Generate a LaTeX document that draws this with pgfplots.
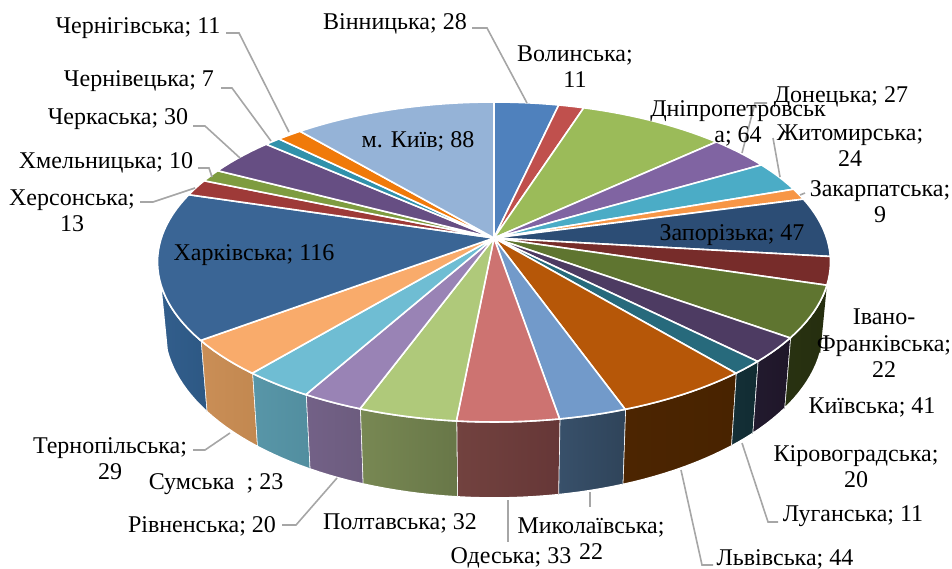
\documentclass[border=0pt]{standalone}
\usepackage{pgfplots}
\usepackage{pgfplotstable}
\pgfplotsset{compat=1.18}
\usepackage{fontspec}
\setmainfont{Liberation Serif}
\pgfplotstableread{
value
28
11
64
27
24
9
47
22
41
20
11
44
22
33
32
20
23
29
116
13
10
30
7
11
88
}\slices
\definecolor{t0}{HTML}{4F81BD}\definecolor{t1}{HTML}{C0504D}\definecolor{t2}{HTML}{9BBB59}
\definecolor{t3}{HTML}{8064A2}\definecolor{t4}{HTML}{4BACC6}\definecolor{t5}{HTML}{F79646}
\definecolor{t6}{HTML}{2C4D75}\definecolor{t7}{HTML}{772C2A}\definecolor{t8}{HTML}{5F7530}
\definecolor{t9}{HTML}{4D3B62}\definecolor{t10}{HTML}{276A7C}\definecolor{t11}{HTML}{B65708}
\definecolor{t12}{HTML}{729ACA}\definecolor{t13}{HTML}{CD7371}\definecolor{t14}{HTML}{AFC97A}
\definecolor{t15}{HTML}{9983B5}\definecolor{t16}{HTML}{6FBDD3}\definecolor{t17}{HTML}{F9AB6B}
\definecolor{t18}{HTML}{3A6595}\definecolor{t19}{HTML}{9E3A38}\definecolor{t20}{HTML}{7E9C40}
\definecolor{t21}{HTML}{664E83}\definecolor{t22}{HTML}{3091AB}\definecolor{t23}{HTML}{F07A0A}
\definecolor{t24}{HTML}{95B3D7}
\definecolor{l8}{HTML}{293211}\definecolor{r8}{HTML}{252E0F}
\definecolor{l9}{HTML}{221A2E}\definecolor{r9}{HTML}{1F1629}
\definecolor{l10}{HTML}{142F37}\definecolor{r10}{HTML}{112C32}
\definecolor{l11}{HTML}{4C2501}\definecolor{r11}{HTML}{482300}
\definecolor{l12}{HTML}{38506A}\definecolor{r12}{HTML}{2F445A}
\definecolor{l13}{HTML}{72423F}\definecolor{r13}{HTML}{663737}
\definecolor{l14}{HTML}{788853}\definecolor{r14}{HTML}{687748}
\definecolor{l15}{HTML}{736187}\definecolor{r15}{HTML}{6C5C7E}
\definecolor{l16}{HTML}{5896A8}\definecolor{r16}{HTML}{528E9F}
\definecolor{l17}{HTML}{CA8E56}\definecolor{r17}{HTML}{C28850}
\definecolor{l18}{HTML}{325E8C}\definecolor{r18}{HTML}{2D5884}
\definecolor{leader}{HTML}{A6A6A6}
% projection of the tilted disc
\newcommand\ptop[1]{%
  \pgfmathsetmacro\pu{sin(#1)}%
  \pgfmathsetmacro\pv{cos(#1)}%
  \pgfmathsetmacro\pw{1+0.15*\pv}%
  \pgfmathsetmacro\pX{494+332.7*\pu/\pw}%
  \pgfmathsetmacro\pY{238-156.4*\pv/\pw}%
  \pgfmathsetmacro\qX{494+(\pX-494)*0.98}%
  \pgfmathsetmacro\qY{\pY+76-0.061*(422-\pY)}%
}
\newcommand\lab[3]{\node[align=center,inner sep=0pt,yshift=-1.5pt,font=\fontsize{24}{26.4}\selectfont] at (axis cs:#1,#2) {#3};}
\newcommand\leader[1]{\addplot[leader,line width=1.6pt] coordinates {#1};}
\begin{document}
\begin{tikzpicture}
\begin{axis}[
  scale only axis, width=952pt, height=569pt,
  xmin=0, xmax=952, ymin=0, ymax=569, y dir=reverse,
  hide axis, clip=false, enlargelimits=false]
% side walls
\gdef\cum{0}
\foreach \i in {0,...,18}{%
  \pgfplotstablegetelem{\i}{value}\of\slices
  \pgfmathsetmacro\angA{\cum/782*360}%
  \pgfmathsetmacro\cumN{\cum+\pgfplotsretval}%
  \xdef\cum{\cumN}%
  \pgfmathsetmacro\angB{\cum/782*360}%
  \ifnum\i=18 \def\angB{254}\fi
  \ifnum\i>7
    \pgfmathtruncatemacro\nn{ceil((\angB-\angA)/2)}%
    \gdef\listT{}\gdef\listB{}%
    \foreach \j in {0,...,\nn}{%
      \pgfmathsetmacro\ang{\angA+(\angB-\angA)*\j/\nn}%
      \ptop{\ang}%
      \xdef\listT{\listT (\pX,\pY)}%
      \xdef\listB{(\qX,\qY) \listB}%
    }%
    \edef\temp{\noexpand\addplot[left color=l\i,right color=r\i,draw=white,line width=1.6pt] coordinates {\listT\space\listB};}%
    \temp
  \fi
}
% top faces
\gdef\cum{0}
\foreach \i in {0,...,24}{%
  \pgfplotstablegetelem{\i}{value}\of\slices
  \pgfmathsetmacro\angA{\cum/782*360}%
  \pgfmathsetmacro\cumN{\cum+\pgfplotsretval}%
  \xdef\cum{\cumN}%
  \pgfmathsetmacro\angB{\cum/782*360}%
  \pgfmathtruncatemacro\nn{ceil((\angB-\angA)/2)}%
  \gdef\listT{(494,238)}%
  \foreach \j in {0,...,\nn}{%
    \pgfmathsetmacro\ang{\angA+(\angB-\angA)*\j/\nn}%
    \ptop{\ang}%
    \xdef\listT{\listT (\pX,\pY)}%
  }%
  \edef\temp{\noexpand\addplot[fill=t\i,draw=white,line width=1.6pt] coordinates {\listT\space(494,238)};}%
  \temp
}
% leader lines
\leader{(472,28)(487,28)(527,103)}
\leader{(226,33)(239,33)(289,132)}
\leader{(221,88)(232,88)(271,141)}
\leader{(193,126)(205,126)(240,158)}
\leader{(198,168)(209,168)(212,177)}
\leader{(140,202)(153,202)(195,188)}
\leader{(767,103)(755,103)(742,153)}
\leader{(773,138)(780,177)}
\leader{(805,193)(800,195)}
\leader{(193,450)(205,450)(230,433)}
\leader{(282,525)(296,525)(337,478)}
\leader{(508,500)(508,542)}
\leader{(590,492)(590,507)}
\leader{(681,470)(702,565)(713,565)}
\leader{(742,443)(768,522)(778,522)}
% labels
\lab{395}{22}{Вінницька; 28}
\lab{138}{27}{Чернігівська; 11}
\lab{139}{80}{Чернівецька; 7}
\lab{118}{118}{Черкаська; 30}
\lab{106}{161}{Хмельницька; 10}
\lab{72}{209}{Херсонська;\\13}
\lab{418}{140}{м. Київ; 88}
\lab{575}{65}{Волинська;\\11}
\lab{738}{122}{Дніпропетровськ\\а; 64}
\lab{841}{96}{Донецька; 27}
\lab{850}{144}{Житомирська;\\24}
\lab{880}{200}{Закарпатська;\\9}
\lab{732}{234}{Запорізька; 47}
\lab{884}{342}{Івано-\\Франківська;\\22}
\lab{872}{406}{Київська; 41}
\lab{856}{465}{Кіровоградська;\\20}
\lab{853}{515}{Луганська; 11}
\lab{785}{558}{Львівська; 44}
\lab{591}{537}{Миколаївська;\\22}
\lab{511}{556}{Одеська; 33}
\lab{400}{522}{Полтавська; 32}
\lab{202}{525}{Рівненська; 20}
\lab{216}{483}{Сумська\ \ ; 23}
\lab{110}{457}{Тернопільська;\\29}
\lab{254}{254}{Харківська; 116}
\end{axis}
\pgfresetboundingbox
\path[use as bounding box] (0,0) rectangle (952pt,569pt);
\end{tikzpicture}
\end{document}
